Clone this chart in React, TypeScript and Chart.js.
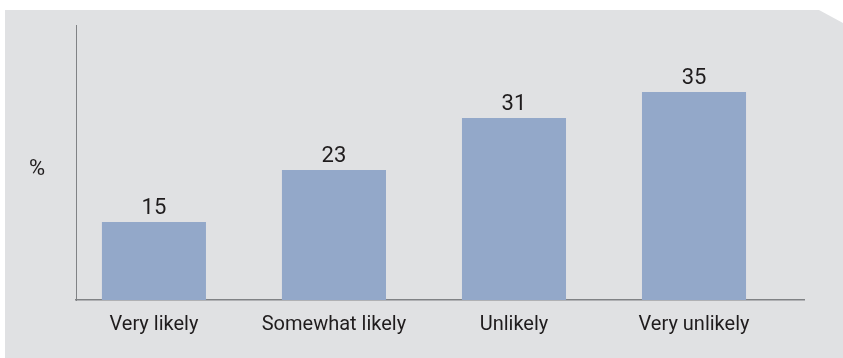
import React, { useEffect, useRef } from "react";
import { Chart, registerables } from "chart.js";

Chart.register(...registerables);

const categories = ["Very likely", "Somewhat likely", "Unlikely", "Very unlikely"];
const values = [15, 23, 31, 35];
const yAxisLabel = "%";

const FONT = '"Roboto", "Liberation Sans Narrow", sans-serif';
const TEXT_COLOR = "#1f1c1d";
const BAR_COLOR = "#93a8c9";
const BG_COLOR = "#e0e1e3";
const AXIS_COLOR = "#808285";

const backgroundPlugin = {
  id: "panelBg",
  beforeDraw(chart: any) {
    const ctx = chart.ctx;
    const w = chart.width;
    const h = chart.height;
    ctx.save();
    ctx.fillStyle = BG_COLOR;
    ctx.beginPath();
    ctx.moveTo(5, 10);
    ctx.lineTo(w - 24, 10);
    ctx.lineTo(w, 23);
    ctx.lineTo(w, h);
    ctx.lineTo(5, h);
    ctx.closePath();
    ctx.fill();
    ctx.restore();
  },
};

const labelsPlugin = {
  id: "valueLabels",
  afterDatasetsDraw(chart: any) {
    const ctx = chart.ctx;
    const meta = chart.getDatasetMeta(0);
    ctx.save();
    ctx.font = `22px ${FONT}`;
    ctx.fillStyle = TEXT_COLOR;
    ctx.textAlign = "center";
    ctx.textBaseline = "alphabetic";
    meta.data.forEach((bar: any, i: number) => {
      ctx.fillText(String(values[i]), bar.x, bar.y - 8);
    });
    const yScale = chart.scales.y;
    ctx.textAlign = "center";
    ctx.textBaseline = "middle";
    ctx.fillText(yAxisLabel, 37, yScale.getPixelForValue(23.1));
    ctx.restore();
  },
};

export default function App() {
  const ref = useRef<HTMLCanvasElement | null>(null);
  useEffect(() => {
    if (!ref.current) return;
    const chart = new Chart(ref.current, {
      type: "bar",
      data: {
        datasets: [
          {
            data: values.map((v, i) => ({ x: i, y: v })),
            backgroundColor: BAR_COLOR,
            borderWidth: 0,
            barPercentage: 0.578,
            categoryPercentage: 1,
          },
        ],
      },
      options: {
        animation: false,
        responsive: false,
        maintainAspectRatio: false,
        layout: { padding: { left: 76, right: 39, top: 25, bottom: 8 } },
        plugins: { legend: { display: false }, tooltip: { enabled: false } },
        scales: {
          x: {
            type: "linear",
            offset: false,
            min: -0.433,
            max: 3.611,
            grid: { display: false, drawTicks: false, offset: false },
            border: { display: true, color: AXIS_COLOR, width: 1.5 },
            afterBuildTicks: (scale: any) => {
              scale.ticks = categories.map((_, i) => ({ value: i }));
            },
            ticks: {
              autoSkip: false,
              maxRotation: 0,
              padding: 13,
              color: TEXT_COLOR,
              font: { family: FONT, size: 20 },
              callback: (v: any) => categories[v as number] ?? "",
            },
          },
          y: {
            min: 3,
            max: 45.3,
            grid: { display: false, drawTicks: false },
            border: { display: true, color: AXIS_COLOR, width: 1 },
            ticks: { display: false },
          },
        },
      },
      plugins: [backgroundPlugin, labelsPlugin],
    });
    return () => chart.destroy();
  }, []);
  return (
    <div style={{ position: "fixed", left: 0, top: 0, width: 843, height: 358, background: "#ffffff" }}>
      <canvas ref={ref} width={843} height={358} style={{ display: "block" }} />
    </div>
  );
}
